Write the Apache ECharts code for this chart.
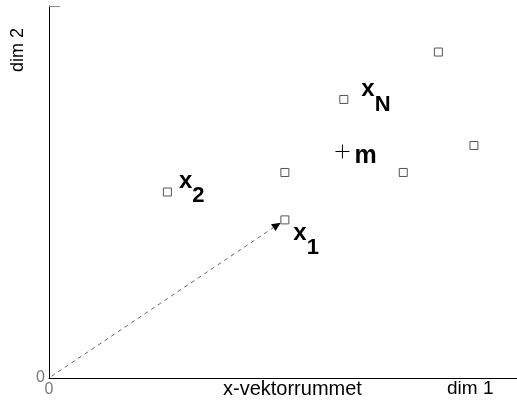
<!DOCTYPE html>
<html>
<head>
<meta charset="utf-8">
<script src="https://cdn.jsdelivr.net/npm/echarts@6/dist/echarts.min.js"></script>
<style>
  html, body { margin: 0; padding: 0; background: #fff; }
  #chart { width: 517px; height: 407px; }
</style>
</head>
<body>
<div id="chart"></div>
<script>
// punkterna i vektorrummet
const ptX = [50.4, 25.3, 50.4, 63.0, 83.2, 90.8, 75.7];
const ptY = [34.0, 40.0, 44.2, 59.9, 70.1, 50.0, 44.2];
const ptSub = ['1', '2', '', 'N', '', '', ''];
// medelvärde m
const meanX = [62.7];
const meanY = [48.7];
const meanLabel = ['m'];
// axlar
const xMax = 100;
const yMax = 80;
const xTickLabels = [0];
const yTickLabels = [0];

const FONT = 'Liberation Sans, Arial, sans-serif';

// label-förskjutning per punkt (bara utseende)
const labelOffset = { '1': [0, 20], '2': [3, -4], 'N': [9, -3] };

let chart = echarts.init(document.getElementById('chart'));

const pointData = ptX.map(function (x, i) {
  const sub = ptSub[i];
  return {
    value: [x, ptY[i]],
    label: sub ? { offset: labelOffset[sub] } : { show: false }
  };
});

const option = {
  animation: false,
  backgroundColor: '#fff',
  grid: { left: 49, right: 0, top: 6, bottom: 29 },
  xAxis: {
    type: 'value',
    min: 0,
    max: xMax,
    splitLine: { show: false },
    axisTick: { show: false },
    axisLine: { lineStyle: { color: '#000', width: 1 } },
    axisLabel: {
      customValues: xTickLabels,
      color: '#777',
      fontSize: 16,
      fontFamily: FONT,
      margin: 4
    }
  },
  yAxis: {
    type: 'value',
    min: 0,
    max: yMax,
    splitLine: { show: false },
    axisTick: {
      show: true,
      inside: true,
      length: 11,
      customValues: [yMax],
      lineStyle: { color: '#888' }
    },
    axisLine: { show: true, lineStyle: { color: '#000', width: 1 } },
    axisLabel: {
      customValues: yTickLabels,
      color: '#777',
      fontSize: 16,
      fontFamily: FONT,
      margin: 4
    }
  },
  graphic: [
    {
      type: 'text', left: 223, top: 379,
      style: { text: 'x-vektorrummet', fontSize: 20, fontFamily: FONT, fill: '#000' }
    },
    {
      type: 'text', left: 447, top: 379,
      style: { text: 'dim 1', fontSize: 19, fontFamily: FONT, fill: '#000' }
    },
    {
      type: 'text', left: 9, top: 28, rotation: Math.PI / 2,
      style: { text: 'dim 2', fontSize: 18, fontFamily: FONT, fill: '#000' }
    }
  ],
  series: [
    {
      // streckad pil från origo till x1
      type: 'custom',
      data: [[ptX[0], ptY[0]]],
      renderItem: function (params, api) {
        const p0 = api.coord([0, 0]);
        const p1 = api.coord([api.value(0), api.value(1)]);
        const dx = p1[0] - p0[0], dy = p1[1] - p0[1];
        const len = Math.sqrt(dx * dx + dy * dy);
        const ux = dx / len, uy = dy / len;
        const tip = [p1[0] - ux * 5, p1[1] - uy * 5];
        const base = [tip[0] - ux * 9, tip[1] - uy * 9];
        const nx = -uy, ny = ux;
        return {
          type: 'group',
          children: [
            {
              type: 'line',
              shape: { x1: p0[0] + ux * 3, y1: p0[1] + uy * 3, x2: base[0], y2: base[1] },
              style: { stroke: '#666', lineWidth: 1, lineDash: [4, 4] }
            },
            {
              type: 'polygon',
              shape: {
                points: [
                  tip,
                  [base[0] + nx * 4, base[1] + ny * 4],
                  [base[0] - nx * 4, base[1] - ny * 4]
                ]
              },
              style: { fill: '#000' }
            }
          ]
        };
      },
      z: 1
    },
    {
      type: 'scatter',
      symbol: 'rect',
      symbolSize: 8,
      itemStyle: { color: '#fff', borderColor: '#555', borderWidth: 1, opacity: 1 },
      label: {
        show: true,
        position: 'right',
        distance: 4,
        formatter: function (p) {
          return '{big|x}{sub|' + ptSub[p.dataIndex] + '}';
        },
        rich: {
          big: { fontSize: 24, fontWeight: 'bold', fontFamily: FONT, color: '#000', lineHeight: 38, verticalAlign: 'top' },
          sub: { fontSize: 22, fontWeight: 'bold', fontFamily: FONT, color: '#000', verticalAlign: 'bottom' }
        }
      },
      data: pointData,
      z: 3
    },
    {
      type: 'scatter',
      symbol: 'path://M0,6.5h14v1h-14z M6.5,0h1v14h-1z',
      symbolSize: 14,
      itemStyle: { color: '#000', opacity: 1 },
      label: {
        show: true,
        position: 'right',
        distance: 5,
        offset: [0, 5],
        formatter: function (p) { return meanLabel[p.dataIndex]; },
        fontSize: 25,
        fontWeight: 'bold',
        fontFamily: FONT,
        color: '#000',
        lineHeight: 25
      },
      data: meanX.map(function (x, i) { return [x, meanY[i]]; }),
      z: 3
    }
  ]
};

chart.setOption(option);
window.onresize = function () {
  chart.resize();
};
</script>
</body>
</html>
